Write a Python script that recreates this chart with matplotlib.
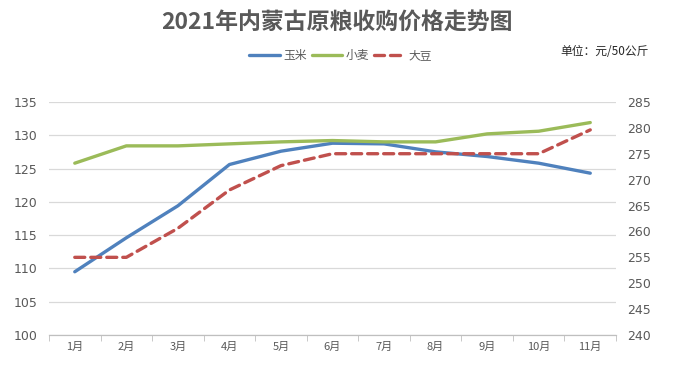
import numpy as np
import matplotlib
matplotlib.use("Agg")
import matplotlib.pyplot as plt
from matplotlib.ticker import FixedLocator

plt.rcParams['font.family'] = ['Noto Sans CJK SC', 'DejaVu Sans']

months = ["1月", "2月", "3月", "4月", "5月", "6月", "7月", "8月", "9月", "10月", "11月"]
corn = [109.5, 114.6, 119.4, 125.6, 127.6, 128.8, 128.7, 127.5, 126.8, 125.8, 124.3]
wheat = [125.8, 128.4, 128.4, 128.7, 129.0, 129.2, 129.0, 129.0, 130.2, 130.6, 131.9]
soybean = [255, 255, 260.6, 268, 272.7, 275, 275, 275, 275, 275, 279.6]

GRAY = "#595959"
x = np.arange(len(months))

fig = plt.figure(figsize=(6.74, 3.86), dpi=100)
ax = fig.add_axes([0.0727, 0.132, 0.8413, 0.604])
ax2 = ax.twinx()

l1, = ax.plot(x, corn, color="#4F81BD", lw=2.4, solid_capstyle="round", zorder=3)
l2, = ax.plot(x, wheat, color="#9BBB59", lw=2.4, solid_capstyle="round", zorder=3)
l3, = ax2.plot(x, soybean, color="#C0504D", lw=2.4, ls=(0, (3.0, 1.8)),
               dash_capstyle="round", zorder=3)

ax.set_xlim(-0.5, len(months) - 0.5)
ax.set_ylim(100, 135)
ax.set_yticks(np.arange(100, 136, 5))
ax2.set_ylim(240, 285)
ax2.set_yticks(np.arange(240, 286, 5))

ax.grid(axis="y", color="#D9D9D9", lw=0.9)
ax.set_axisbelow(True)
ax.set_xticks(x)
ax.set_xticklabels(months, fontsize=8, color=GRAY)
ax.xaxis.set_minor_locator(FixedLocator(np.arange(-0.5, len(months), 1)))
ax.tick_params(axis="x", which="major", length=0, pad=5)
ax.tick_params(axis="x", which="minor", length=4, color="#BFBFBF")
ax.tick_params(axis="y", length=0, pad=8, labelsize=9, labelcolor=GRAY)
ax2.tick_params(axis="y", length=0, pad=8, labelsize=9, labelcolor=GRAY)
for a in (ax, ax2):
    for s in ("top", "left", "right"):
        a.spines[s].set_visible(False)
    a.spines["bottom"].set_color("#BFBFBF")
for t in ax.get_yticklabels() + ax2.get_yticklabels():
    t.set_family("DejaVu Sans")

fig.text(0.5, 0.94, "2021年内蒙古原粮收购价格走势图", ha="center", va="center",
         fontsize=16.5, fontweight="bold", color=GRAY)
fig.text(0.962, 0.866, "单位：元/50公斤", ha="right", va="center",
         fontsize=8.5, color="#262626")
fig.legend([l1, l2, l3], ["玉米", "小麦", "大豆"], loc="center",
           bbox_to_anchor=(0.505, 0.855), ncol=3, frameon=False,
           fontsize=8.5, labelcolor=GRAY, handlelength=2.6,
           handletextpad=0.3, columnspacing=0.4)

fig.savefig("out.png", dpi=100)
